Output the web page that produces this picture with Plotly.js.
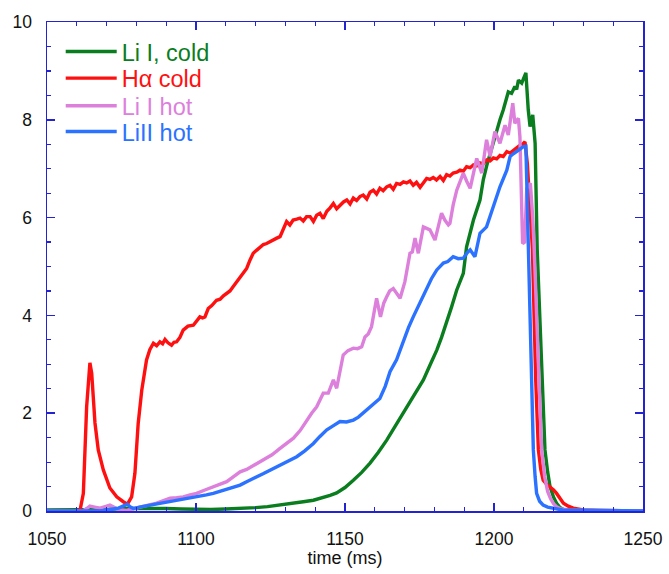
<!DOCTYPE html>
<html>
<head>
<meta charset="utf-8">
<script src="https://cdn.plot.ly/plotly-3.0.1.min.js"></script>
<style>html,body{margin:0;padding:0;background:#fff;}#chart{width:669px;height:574px;}</style>
</head>
<body>
<div id="chart"></div>
<script>
// ---- data ----
var seriesNames = ["Li I, cold", "H\u03b1 cold", "Li I hot", "LiII hot"];

var greenX = [1050,1060,1070,1075,1080,1085,1090,1095,1100,1105,1110,1115,1120,1124,1128.2,1132,1136,1139.4,1143,1145,1147.2,1150,1152.8,1155.6,1158.4,1161.2,1164,1167.3,1170.7,1173.5,1176.3,1178.5,1180.8,1182.4,1184.1,1185.8,1187.5,1189.7,1190.8,1193.1,1195.3,1196.4,1197.5,1198.7,1199.8,1200.9,1202,1203.1,1204.8,1205.9,1207,1207.6,1208.2,1209.3,1210.7,1211.5,1212.1,1213,1213.8,1214.5,1216.2,1217.1,1218,1218.8,1220,1221,1222,1223.3,1230,1250];
var greenY = [0.02,0.02,0.03,0.05,0.05,0.06,0.05,0.04,0.03,0.03,0.04,0.05,0.07,0.09,0.12,0.15,0.19,0.22,0.28,0.32,0.37,0.48,0.63,0.79,0.98,1.2,1.45,1.78,2.13,2.40,2.68,2.98,3.29,3.55,3.84,4.18,4.52,4.86,5.40,5.95,6.36,6.77,7.05,7.31,7.55,7.79,8.0,8.20,8.57,8.54,8.68,8.62,8.81,8.75,8.96,8.20,7.86,8.10,7.52,5.34,2.68,1.25,0.8,0.5,0.28,0.16,0.08,0.03,0.01,0];

var redX = [1050,1055,1060,1061.1,1062.2,1063.3,1064.4,1065,1066.1,1067.2,1068.9,1071.1,1073.4,1075.6,1077,1078.4,1079.5,1080.6,1081.8,1083.4,1084.5,1085.7,1086.8,1087.9,1088.8,1089.6,1090.6,1091.8,1092.6,1093.5,1094.6,1095.7,1097.3,1099.1,1100.2,1101.3,1102.2,1103,1104.1,1105.3,1106.9,1108.1,1109.2,1110.3,1111.4,1112.5,1114.1,1115.8,1117,1118.1,1119.2,1120.3,1121.5,1122.6,1123.7,1124.8,1126,1127.1,1128.2,1129.3,1130.4,1131.5,1132.6,1133.8,1134.9,1136,1137.1,1138.3,1139.4,1140.5,1141.6,1142.7,1143.9,1145,1146.1,1147.2,1148.3,1149.5,1150.6,1151.7,1152.8,1153.9,1155,1156.1,1157.3,1158.4,1159.5,1160.6,1161.7,1162.8,1164,1165.1,1166.2,1167.3,1168.5,1169.6,1170.7,1171.8,1172.9,1174,1175.2,1176.3,1177.4,1178.5,1179.6,1180.7,1181.9,1183,1184.1,1185.2,1186.3,1187.5,1188.6,1189.7,1190.8,1192,1193.1,1194.2,1195.3,1196.4,1197.5,1198.7,1199.8,1200.9,1202,1203.1,1204.3,1205.4,1206.5,1207.6,1208.7,1209.6,1210.4,1211.2,1212.1,1212.9,1214,1214.9,1215.7,1216.5,1217.6,1218.8,1220,1221,1222.2,1223.3,1224.9,1226.6,1230,1235,1250];
var redY = [0,0,0,0.02,0.36,2.13,3.03,2.82,1.8,1.25,0.84,0.47,0.29,0.19,0.14,0.29,0.77,1.79,2.47,3.09,3.3,3.43,3.38,3.46,3.42,3.51,3.44,3.39,3.45,3.46,3.55,3.70,3.78,3.80,3.88,3.97,3.95,3.97,4.14,4.2,4.31,4.33,4.40,4.45,4.50,4.59,4.72,4.86,4.96,5.13,5.27,5.33,5.40,5.45,5.47,5.51,5.55,5.58,5.61,5.75,5.92,5.85,5.95,5.97,5.99,5.93,6.02,6.02,5.92,6.05,6.09,5.98,6.13,6.20,6.29,6.18,6.25,6.32,6.36,6.28,6.40,6.35,6.43,6.46,6.38,6.52,6.56,6.48,6.60,6.55,6.63,6.66,6.58,6.70,6.68,6.73,6.71,6.75,6.66,6.72,6.62,6.70,6.80,6.78,6.82,6.77,6.84,6.76,6.88,6.85,6.91,6.93,6.97,6.95,7.04,7.02,7.08,7.06,7.12,7.10,7.18,7.16,7.22,7.20,7.27,7.25,7.35,7.32,7.38,7.42,7.48,7.50,7.55,7.1,6.3,5.34,2.68,1.25,0.85,0.63,0.55,0.5,0.43,0.36,0.26,0.16,0.1,0.06,0.02,0.01,0];

var pinkX = [1050,1062,1063.3,1064.4,1066,1067.8,1069.5,1071.1,1073.4,1075,1076.7,1078.5,1081.2,1084,1086.8,1089,1091.3,1093.5,1095.7,1098,1100.2,1103,1105.8,1108,1110.3,1112.5,1114.8,1117,1119,1121,1123,1125.5,1128.2,1130.5,1132.7,1135,1137.1,1138.8,1140.5,1142.7,1144.4,1146.1,1147.2,1149.4,1151,1152.8,1154.2,1155.6,1156.7,1157.8,1158.9,1160.6,1161.9,1163,1164,1165,1166.2,1167.3,1168.5,1170.1,1171.8,1172.6,1173.5,1174.6,1176.3,1177.4,1178.5,1180.2,1182.4,1183.5,1184.7,1185.2,1186.3,1187.5,1189.7,1190.8,1192,1194.2,1195.9,1197.5,1198.7,1200.3,1202,1203.7,1204.8,1206.3,1207,1208.2,1208.7,1209.6,1210.3,1211,1212.2,1213,1213.5,1215.1,1216,1217,1218,1219,1220,1221,1222.1,1225,1250];
var pinkY = [0,0,0.05,0.1,0.08,0.06,0.09,0.12,0.05,0.02,0.01,0.04,0.09,0.12,0.16,0.2,0.26,0.27,0.29,0.33,0.36,0.43,0.5,0.54,0.6,0.7,0.8,0.85,0.92,1.0,1.06,1.15,1.28,1.38,1.49,1.65,1.86,2.0,2.13,2.41,2.41,2.68,2.51,3.19,3.28,3.33,3.32,3.36,3.56,3.62,3.77,4.35,3.97,4.25,4.38,4.50,4.55,4.45,4.35,4.69,5.27,5.30,5.58,5.27,5.81,5.78,5.75,5.54,6.09,5.95,5.85,5.88,6.26,6.56,6.91,6.75,6.60,7.21,6.91,7.59,7.25,7.76,7.52,7.89,7.69,8.34,7.93,8.03,7.65,5.47,5.5,6.6,6.7,6.0,5.34,2.68,1.25,0.7,0.4,0.25,0.15,0.09,0.05,0.02,0];

var blueX = [1050,1068,1070,1072,1074,1075.5,1077,1078,1079,1081,1084.6,1088,1092.4,1095,1098,1101,1103.5,1105.8,1108,1110,1112.5,1114.8,1117,1120,1122.5,1125,1128.2,1131,1133.8,1136.5,1139.4,1141.5,1143.9,1146,1148.3,1150.5,1152.8,1154.5,1156.1,1158.4,1160,1161.7,1163.5,1165.1,1167.3,1169.6,1171.3,1172.9,1175,1177.4,1179,1180.8,1182,1183,1184.5,1186.3,1188,1189.7,1191,1192,1193.6,1195.3,1197.5,1199.8,1202,1204.3,1205.4,1206.6,1208.2,1209.9,1210.7,1211.5,1212.6,1213.2,1213.8,1214.3,1215.3,1216.5,1218,1220,1223,1250];
var blueY = [0,0,0.02,0.04,0.06,0.1,0.14,0.08,0.05,0.08,0.12,0.15,0.19,0.22,0.26,0.3,0.33,0.36,0.4,0.45,0.5,0.53,0.6,0.68,0.76,0.84,0.94,1.02,1.11,1.23,1.38,1.52,1.66,1.74,1.83,1.82,1.86,1.92,2.0,2.13,2.2,2.30,2.55,2.85,3.09,3.50,3.75,3.97,4.25,4.55,4.75,4.93,5.0,5.07,5.10,5.20,5.16,5.17,5.28,5.34,5.20,5.68,5.81,6.22,6.63,6.97,7.25,7.31,7.38,7.45,7.46,5.3,2.68,1.25,0.7,0.36,0.2,0.12,0.08,0.05,0.02,0];

var xTickVals = [1050,1100,1150,1200,1250];
var yTickVals = [0,2,4,6,8,10];

// ---- styling ----
var colors = ["#0a7d1e", "#ff1010", "#dc80dc", "#2a72ff"];
var axisBlue = "#2323d2";
var font = "Liberation Sans, Arial, sans-serif";

var xs = [greenX, redX, pinkX, blueX];
var ys = [greenY, redY, pinkY, blueY];
var legendIds = ["legend", "legend2", "legend3", "legend4"];

var traces = xs.map(function (x, i) {
  return {
    x: x, y: ys[i], type: "scatter", mode: "lines",
    name: seriesNames[i],
    line: {color: colors[i], width: 3.4},
    legend: legendIds[i],
    showlegend: true
  };
});

function mkLegend(i, ypos) {
  return {
    x: 0.023, xanchor: "left", y: ypos, yanchor: "middle",
    bgcolor: "rgba(0,0,0,0)", borderwidth: 0,
    font: {family: font, size: 23.5, color: colors[i]},
    itemwidth: 51, tracegroupgap: 0
  };
}
// item centers in px: 51.7, 78.3, 106, 131.7 ; plot top 22, height 489
function py(p) { return 1 - (p - 22) / 489; }

var layout = {
  width: 669, height: 574,
  margin: {l: 47, r: 26, t: 22, b: 63},
  paper_bgcolor: "#fff", plot_bgcolor: "#fff",
  showlegend: true,
  font: {family: font, size: 17.5, color: "#111"},
  xaxis: {
    range: [1050, 1250], tickvals: xTickVals, ticktext: xTickVals.map(String),
    ticks: "inside", ticklen: 8, tickwidth: 1.5, tickcolor: axisBlue,
    showline: true, linecolor: axisBlue, linewidth: 1.5, mirror: "allticks",
    showgrid: false, zeroline: false,
    tickfont: {family: font, size: 17.5, color: "#111"},
    ticklabelstandoff: 11,
    minor: {dtick: 10, tick0: 1050, ticks: "inside", ticklen: 4, tickwidth: 1.2, tickcolor: axisBlue, showgrid: false},
    title: {text: "time (ms)", font: {family: font, size: 18, color: "#111"}, standoff: 4}
  },
  yaxis: {
    range: [0, 10], tickvals: yTickVals, ticktext: yTickVals.map(String),
    ticks: "inside", ticklen: 8, tickwidth: 1.5, tickcolor: axisBlue,
    showline: true, linecolor: axisBlue, linewidth: 1.5, mirror: "allticks",
    showgrid: false, zeroline: false,
    tickfont: {family: font, size: 17.5, color: "#111"},
    ticklabelstandoff: 10,
    minor: {dtick: 0.5, tick0: 0, ticks: "inside", ticklen: 4, tickwidth: 1.2, tickcolor: axisBlue, showgrid: false}
  },
  legend: mkLegend(0, py(51.7)),
  legend2: mkLegend(1, py(78.3)),
  legend3: mkLegend(2, py(106)),
  legend4: mkLegend(3, py(131.7))
};

Plotly.newPlot("chart", traces, layout, {displayModeBar: false, staticPlot: true});
</script>
</body>
</html>
